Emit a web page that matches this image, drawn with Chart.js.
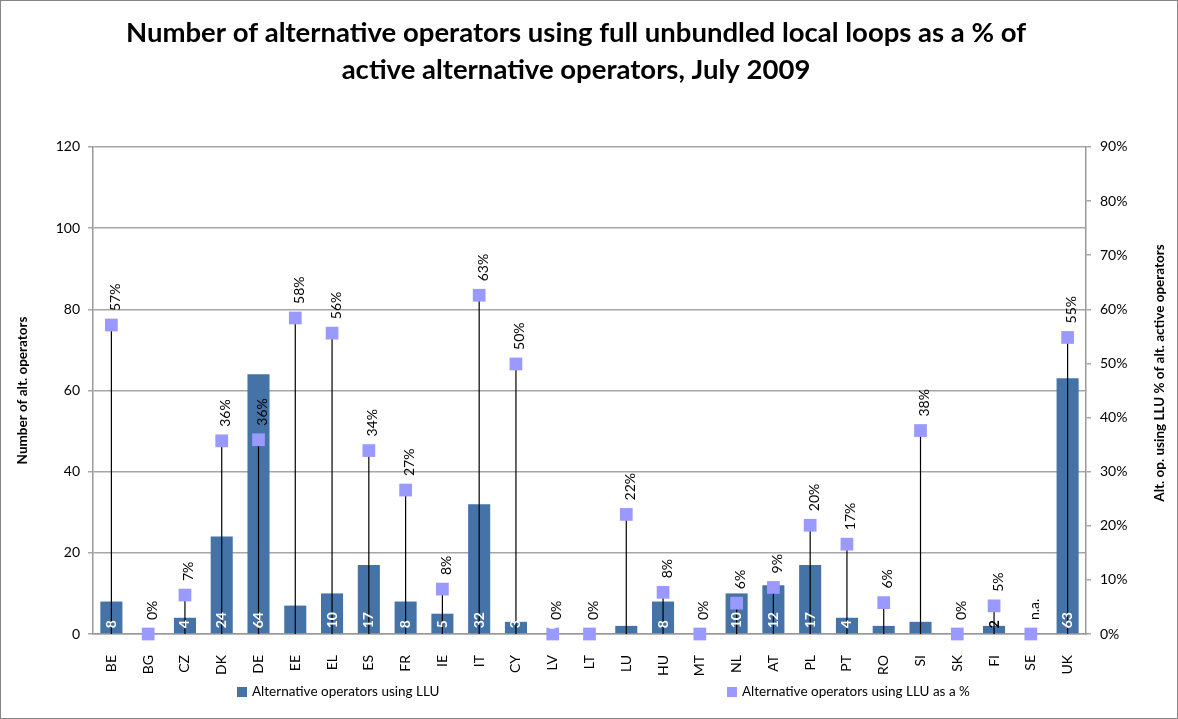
<!DOCTYPE html>
<html><head><meta charset="utf-8">
<script src="https://cdn.jsdelivr.net/npm/chart.js@4.4.1/dist/chart.umd.min.js"></script>
<style>
html,body{margin:0;padding:0;background:#fff;}
#wrap{position:relative;width:1178px;height:719px;}
</style></head><body>
<div id="wrap"><canvas id="c" width="1178" height="719"></canvas></div>
<script>
const categories = ['BE','BG','CZ','DK','DE','EE','EL','ES','FR','IE','IT','CY','LV','LT','LU','HU','MT','NL','AT','PL','PT','RO','SI','SK','FI','SE','UK'];
const operatorsLLU = [8,0,4,24,64,7,10,17,8,5,32,3,0,0,2,8,0,10,12,17,4,2,3,0,2,0,63];
const operatorsPct = [57.1,0,7.2,35.7,35.9,58.4,55.6,33.9,26.6,8.3,62.6,49.9,0,0,22.1,7.7,0,5.7,8.6,20.1,16.6,5.8,37.6,0,5.2,0,54.8];
const pctLabels = ['57%','0%','7%','36%','36%','58%','56%','34%','27%','8%','63%','50%','0%','0%','22%','8%','0%','6%','9%','20%','17%','6%','38%','0%','5%','n.a.','55%'];
const barLabels = ['8','','4','24','64','','10','17','8','5','32','3','0','','','8','','10','12','17','4','','','','2','','63'];
const leftAxisTitle = 'Number of alt. operators';
const rightAxisTitle = 'Alt. op. using LLU % of alt. active operators';
const titleLines = ['Number of alternative operators using full unbundled local loops as a % of','active alternative operators, July 2009'];

const FONT = 'Lato, "Open Sans", "DejaVu Sans", sans-serif';
const BAR_COLOR = '#4572A7';
const PT_COLOR = '#9999FF';
const darkBarLabels = ['FI'];

const extras = {
  id: 'extras',
  beforeDraw(chart) {
    const ctx = chart.ctx;
    ctx.save();
    ctx.fillStyle = '#fff';
    ctx.fillRect(0, 0, chart.width, chart.height);
    ctx.restore();
  },
  beforeDatasetDraw(chart, args) {
    if (args.index !== 1) return;
    const ctx = chart.ctx;
    const meta = chart.getDatasetMeta(1);
    const base = chart.scales.y1.getPixelForValue(0);
    ctx.save();
    ctx.strokeStyle = '#000';
    ctx.lineWidth = 1.2;
    meta.data.forEach(pt => {
      ctx.beginPath();
      ctx.moveTo(pt.x, pt.y);
      ctx.lineTo(pt.x, base);
      ctx.stroke();
    });
    ctx.restore();
  },
  afterDatasetsDraw(chart) {
    const ctx = chart.ctx;
    const lineMeta = chart.getDatasetMeta(1);
    ctx.save();
    ctx.font = '14px ' + FONT;
    ctx.fillStyle = '#000';
    ctx.textAlign = 'left';
    ctx.textBaseline = 'middle';
    lineMeta.data.forEach((pt, i) => {
      const t = pctLabels[i];
      if (!t) return;
      ctx.save();
      ctx.translate(pt.x + 4, pt.y - 14);
      ctx.rotate(-Math.PI / 2);
      ctx.fillText(t, 0, 0);
      ctx.restore();
    });
    ctx.restore();
    const barMeta = chart.getDatasetMeta(0);
    ctx.save();
    ctx.font = 'bold 14px ' + FONT;
    ctx.textAlign = 'left';
    ctx.textBaseline = 'middle';
    barMeta.data.forEach((bar, i) => {
      const t = barLabels[i];
      if (!t) return;
      ctx.save();
      ctx.fillStyle = darkBarLabels.includes(categories[i]) ? '#000' : '#fff';
      ctx.translate(bar.x, bar.base - 5);
      ctx.rotate(-Math.PI / 2);
      ctx.fillText(t, 0, 0);
      ctx.restore();
    });
    ctx.restore();
  },
  afterDraw(chart) {
    const ctx = chart.ctx;
    ctx.save();
    ctx.font = 'bold 13.5px ' + FONT;
    ctx.fillStyle = '#000';
    ctx.textAlign = 'center';
    ctx.textBaseline = 'middle';
    ctx.translate(1160, 373);
    ctx.rotate(-Math.PI / 2);
    ctx.fillText(rightAxisTitle, 0, 0);
    ctx.restore();
    ctx.save();
    ctx.font = '13.5px ' + FONT;
    ctx.textBaseline = 'middle';
    ctx.textAlign = 'left';
    const ds = chart.data.datasets;
    const items = [{x: 237, color: BAR_COLOR, text: ds[0].label}, {x: 727, color: PT_COLOR, text: ds[1].label}];
    items.forEach(it => {
      ctx.fillStyle = it.color;
      ctx.fillRect(it.x, 687, 10, 10);
      ctx.fillStyle = '#000';
      ctx.fillText(it.text, it.x + 15, 692);
    });
    ctx.restore();
    ctx.save();
    ctx.strokeStyle = '#868686';
    ctx.lineWidth = 1;
    ctx.strokeRect(0.5, 0.5, chart.width - 1, chart.height - 1);
    ctx.restore();
  }
};

new Chart(document.getElementById('c'), {
  data: {
    labels: categories,
    datasets: [
      {
        type: 'bar',
        label: 'Alternative operators using LLU',
        data: operatorsLLU,
        backgroundColor: BAR_COLOR,
        yAxisID: 'y',
        barPercentage: 0.6,
        categoryPercentage: 1,
        order: 2
      },
      {
        type: 'line',
        label: 'Alternative operators using LLU as a %',
        data: operatorsPct,
        yAxisID: 'y1',
        showLine: false,
        pointStyle: 'rect',
        pointRadius: 9,
        pointHoverRadius: 9,
        pointBorderWidth: 0,
        backgroundColor: PT_COLOR,
        borderColor: PT_COLOR,
        clip: false,
        order: 1
      }
    ]
  },
  options: {
    responsive: false,
    animation: false,
    devicePixelRatio: 1,
    layout: {padding: {left: 0, right: 26, top: 0, bottom: 0}},
    plugins: {
      legend: {display: false},
      tooltip: {enabled: false},
      title: {
        display: true,
        text: titleLines,
        color: '#000',
        font: {family: FONT, size: 27.5, weight: 'bold', lineHeight: 1.345},
        padding: {top: 14.5, bottom: 58.5}
      }
    },
    scales: {
      x: {
        grid: {display: false},
        border: {display: true, color: '#999', width: 1.5},
        ticks: {minRotation: 90, maxRotation: 90, autoSkip: false, padding: 13, color: '#000', font: {family: FONT, size: 14}},
        afterFit(s) { s.height = 85; }
      },
      y: {
        position: 'left',
        min: 0, max: 120,
        ticks: {stepSize: 20, padding: 8, color: '#000', font: {family: FONT, size: 14}},
        grid: {color: '#a6a6a6', lineWidth: 1.5, tickLength: 5},
        border: {color: '#999', width: 1.5},
        title: {display: true, text: leftAxisTitle, color: '#000', font: {family: FONT, size: 13.5, weight: 'bold'}, padding: {top: 15, bottom: 0}},
        afterFit(s) { s.width = 93; }
      },
      y1: {
        position: 'right',
        min: 0, max: 90,
        ticks: {stepSize: 10, padding: 9, color: '#000', font: {family: FONT, size: 14}, callback: v => v + '%'},
        grid: {drawOnChartArea: false, tickLength: 5, color: '#a6a6a6', lineWidth: 1.5},
        border: {color: '#999', width: 1.5},
        afterFit(s) { s.width = 66; }
      }
    }
  },
  plugins: [extras]
});
</script>
</body></html>
